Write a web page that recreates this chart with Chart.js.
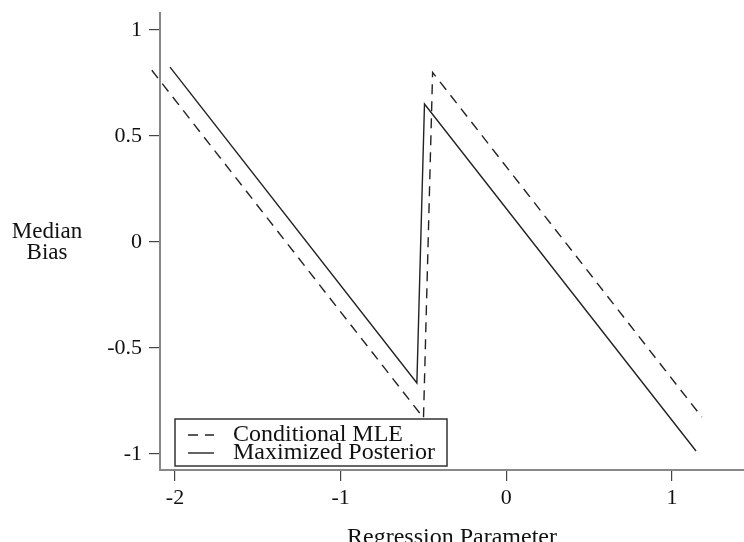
<!DOCTYPE html>
<html>
<head>
<meta charset="utf-8">
<script src="https://cdn.jsdelivr.net/npm/chart.js@4/dist/chart.umd.min.js"></script>
<style>
  html, body { margin: 0; padding: 0; background: #fff; overflow: hidden; width: 744px; height: 542px; }
  #wrap { position: relative; width: 744px; height: 560px; }
</style>
</head>
<body>
<div id="wrap"><canvas id="biasChart"></canvas></div>
<script>
// Kink points of each line
const mleX = [-2.14, -0.50, -0.445, 1.18];
const mleY = [0.81, -0.83, 0.80, -0.826];
const postX = [-2.03, -0.54, -0.494, 1.145];
const postY = [0.825, -0.665, 0.651, -0.986];

const seriesLabels = ['Conditional MLE', 'Maximized Posterior'];
const xTicks = [-2, -1, 0, 1];
const yTicks = [-1, -0.5, 0, 0.5, 1];

const serif = '"Liberation Serif", "DejaVu Serif", serif';
const CANVAS_H = 560;

function toPoints(xs, ys) {
    return xs.map((x, i) => ({ x: x, y: ys[i] }));
}

// Legend drawn inside the plot, boxed, lower left
const boxLegend = {
    id: 'boxLegend',
    afterDatasetsDraw(chart) {
        const ctx = chart.ctx;
        const x0 = 175, y0 = 419, w = 272, h = 47;
        ctx.save();
        ctx.fillStyle = '#fff';
        ctx.fillRect(x0, y0, w, h);
        ctx.strokeStyle = '#333';
        ctx.lineWidth = 1.5;
        ctx.strokeRect(x0, y0, w, h);
        const rows = [435, 453];
        chart.data.datasets.forEach((ds, i) => {
            ctx.beginPath();
            ctx.setLineDash(ds.borderDash || []);
            ctx.strokeStyle = ds.borderColor;
            ctx.lineWidth = ds.borderWidth;
            ctx.moveTo(188, rows[i]);
            ctx.lineTo(214, rows[i]);
            ctx.stroke();
            ctx.setLineDash([]);
            ctx.fillStyle = '#111';
            ctx.font = '24px ' + serif;
            ctx.textBaseline = 'middle';
            ctx.textAlign = 'left';
            ctx.fillText(ds.label, 233, rows[i]);
        });
        ctx.restore();
    }
};

// Horizontal two-line y axis title
const yTitle = {
    id: 'yTitle',
    afterDraw(chart) {
        const ctx = chart.ctx;
        ctx.save();
        ctx.fillStyle = '#111';
        ctx.font = '23px ' + serif;
        ctx.textAlign = 'center';
        ctx.textBaseline = 'middle';
        ctx.fillText('Median', 47, 232);
        ctx.fillText('Bias', 47, 253);
        ctx.restore();
    }
};

new Chart(document.getElementById('biasChart'), {
    type: 'scatter',
    data: {
        datasets: [{
            label: seriesLabels[0],
            data: toPoints(mleX, mleY),
            showLine: true,
            borderColor: '#222',
            borderWidth: 1.4,
            borderDash: [10, 7],
            pointRadius: 0,
            clip: false
        }, {
            label: seriesLabels[1],
            data: toPoints(postX, postY),
            showLine: true,
            borderColor: '#222',
            borderWidth: 1.4,
            pointRadius: 0
        }]
    },
    options: {
        responsive: true,
        maintainAspectRatio: false,
        animation: false,
        layout: { padding: { top: 13, right: 0, left: 0, bottom: 0 } },
        plugins: {
            legend: { display: false },
            tooltip: { enabled: false }
        },
        scales: {
            x: {
                type: 'linear',
                min: -2.0905,
                max: 1.4346,
                afterFit(scale) {
                    scale.height = CANVAS_H - 470;
                    scale.paddingLeft = 0;
                    scale.paddingRight = 0;
                },
                afterBuildTicks(scale) { scale.ticks = xTicks.map(v => ({ value: v })); },
                ticks: {
                    font: { family: serif, size: 22 },
                    color: '#111',
                    padding: 4,
                    maxRotation: 0,
                    callback: v => String(v)
                },
                grid: { drawOnChartArea: false, drawTicks: true, tickLength: 11, color: '#444', lineWidth: 1.2 },
                border: { display: true, color: '#888', width: 2 },
                title: {
                    display: true,
                    text: 'Regression Parameter',
                    font: { family: serif, size: 24 },
                    color: '#111',
                    padding: { top: 0, bottom: 8 }
                }
            },
            y: {
                type: 'linear',
                min: -1.0755,
                max: 1.080,
                afterFit(scale) {
                    scale.width = 160;
                    scale.paddingTop = 0;
                    scale.paddingBottom = 0;
                },
                afterBuildTicks(scale) { scale.ticks = yTicks.map(v => ({ value: v })); },
                ticks: {
                    font: { family: serif, size: 22 },
                    color: '#111',
                    padding: 7,
                    callback: v => String(v)
                },
                grid: { drawOnChartArea: false, drawTicks: true, tickLength: 11, color: '#444', lineWidth: 1.2 },
                border: { display: true, color: '#888', width: 2 }
            }
        }
    },
    plugins: [boxLegend, yTitle]
});
</script>
</body>
</html>
